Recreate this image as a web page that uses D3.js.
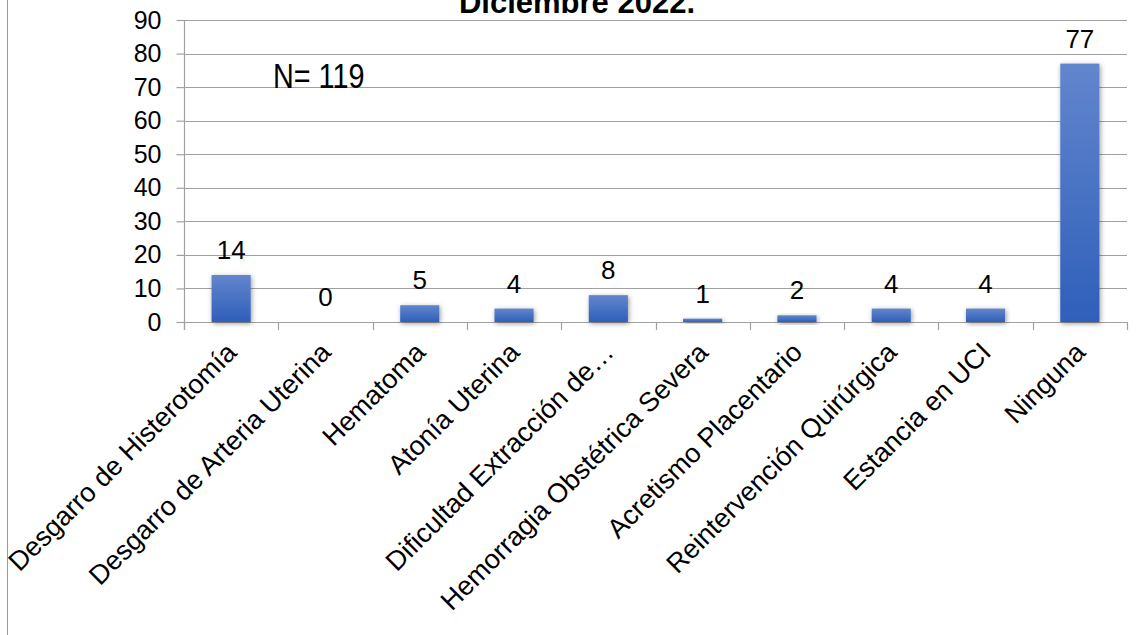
<!DOCTYPE html>
<html>
<head>
<meta charset="utf-8">
<script src="https://cdn.jsdelivr.net/npm/d3@7"></script>
<style>
  html, body { margin: 0; padding: 0; background: #fff; }
  svg { display: block; font-family: "Liberation Sans", Arial, sans-serif; }
</style>
</head>
<body>
<svg id="chart" width="1141" height="635"></svg>
<script>
// Complicaciones registradas (N = 119)
const categories = [
  "Desgarro de Histerotomía",
  "Desgarro de Arteria Uterina",
  "Hematoma",
  "Atonía Uterina",
  "Dificultad Extracción de…",
  "Hemorragia Obstétrica Severa",
  "Acretismo Placentario",
  "Reintervención Quirúrgica",
  "Estancia en UCI",
  "Ninguna"
];
const values = [14, 0, 5, 4, 8, 1, 2, 4, 4, 77];
const yTicks = [0, 10, 20, 30, 40, 50, 60, 70, 80, 90];
const titleText = "Diciembre 2022.";
const noteText = "N= 119";

const svg = d3.select("#chart");
const W = 1141, H = 635;
const plot = { left: 184, right: 1127, top: 20, bottom: 322 };

// gradient fill and soft shadow for the bars
const defs = svg.append("defs");
const grad = defs.append("linearGradient")
  .attr("id", "barFill").attr("x1", 0).attr("y1", 0).attr("x2", 0).attr("y2", 1);
grad.append("stop").attr("offset", "0%").attr("stop-color", "#6286cd");
grad.append("stop").attr("offset", "100%").attr("stop-color", "#2f5fba");
const shadow = defs.append("filter").attr("id", "barShadow")
  .attr("x", "-30%").attr("y", "-30%").attr("width", "160%").attr("height", "160%");
shadow.append("feDropShadow").attr("dx", 1).attr("dy", 1.5)
  .attr("stdDeviation", 2.5).attr("flood-color", "#000").attr("flood-opacity", 0.4);

// chart-area border (left edge)
svg.append("line")
  .attr("x1", 7.5).attr("x2", 7.5).attr("y1", 0).attr("y2", H)
  .attr("stroke", "#9a9a9a").attr("stroke-width", 1);

const x = d3.scaleBand().domain(categories).range([plot.left, plot.right]).padding(0);
const y = d3.scaleLinear().domain([0, 90]).range([plot.bottom, plot.top]);
const barW = x.bandwidth() * 0.415;

// horizontal gridlines
svg.append("g").selectAll("line").data(yTicks).join("line")
  .attr("x1", plot.left).attr("x2", plot.right)
  .attr("y1", d => Math.round(y(d)) + 0.5).attr("y2", d => Math.round(y(d)) + 0.5)
  .attr("stroke", "#a0a0a0").attr("stroke-width", 1.2);

// y axis
const yAxis = svg.append("g")
  .attr("transform", `translate(${plot.left + 0.5},0)`)
  .call(d3.axisLeft(y).tickValues(yTicks).tickSize(8).tickPadding(15));
yAxis.select(".domain").attr("stroke", "#a0a0a0").attr("stroke-width", 1.2)
  .attr("d", `M0,${plot.top}V${plot.bottom + 8}`);
yAxis.selectAll(".tick line").attr("stroke", "#a0a0a0").attr("stroke-width", 1.2);
yAxis.selectAll(".tick text").attr("fill", "#000")
  .style("font-size", "25px").style("font-family", "Liberation Sans, Arial, sans-serif");

// x axis tick marks at category boundaries
const boundaries = categories.map(c => x(c)).concat([plot.right]);
svg.append("g").selectAll("line").data(boundaries).join("line")
  .attr("x1", d => Math.round(d) + 0.5).attr("x2", d => Math.round(d) + 0.5)
  .attr("y1", plot.bottom).attr("y2", plot.bottom + 8)
  .attr("stroke", "#a0a0a0").attr("stroke-width", 1.2);

// bars
const cx = c => x(c) + x.bandwidth() / 2;
svg.append("g").selectAll("rect").data(categories).join("rect")
  .attr("x", c => cx(c) - barW / 2)
  .attr("width", barW)
  .attr("y", (c, i) => y(values[i]))
  .attr("height", (c, i) => y(0) - y(values[i]))
  .attr("fill", "url(#barFill)")
  .attr("filter", "url(#barShadow)");

// value labels
svg.append("g").selectAll("text").data(categories).join("text")
  .attr("x", c => cx(c))
  .attr("y", (c, i) => y(values[i]) - 16)
  .attr("text-anchor", "middle")
  .style("font-size", "26px")
  .attr("fill", "#000")
  .text((c, i) => values[i]);

// rotated category labels
svg.append("g").selectAll("text").data(categories).join("text")
  .attr("transform", c => `translate(${cx(c) + 7},354) rotate(-45)`)
  .attr("text-anchor", "end")
  .style("font-size", "27px")
  .attr("fill", "#000")
  .text(c => c);

// title
svg.append("text")
  .attr("x", 577).attr("y", 13)
  .attr("text-anchor", "middle")
  .style("font-size", "31px").style("font-weight", "bold")
  .attr("fill", "#000")
  .text(titleText);

// sample size note (condensed face)
svg.append("text")
  .attr("transform", "translate(273,88) scale(0.8,1)")
  .style("font-size", "36px")
  .attr("fill", "#000")
  .text(noteText);
</script>
</body>
</html>
